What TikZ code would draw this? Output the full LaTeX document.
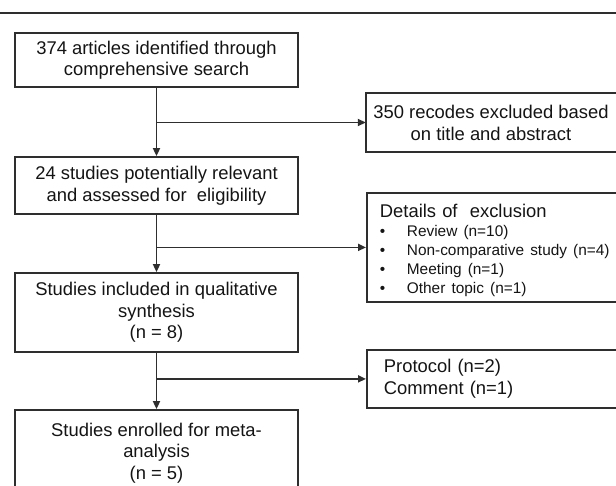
\documentclass[tikz,border=0pt]{standalone}
\usepackage{fontspec}
\setmainfont{Liberation Sans}
\usetikzlibrary{arrows.meta}
\definecolor{ln}{HTML}{2E2E2E}
\definecolor{tx}{HTML}{141414}
\tikzset{
  conn/.style={draw=ln, line width=1.8pt},
  arr/.style={conn, -{Triangle[length=8pt,width=7pt]}},
  box/.style={conn, text=tx, align=center, inner sep=0pt, minimum width=283pt,
    font=\fontsize{18.4}{21.5}\selectfont},
  rbox/.style={text=tx, inner sep=0pt, font=\fontsize{18.4}{22}\selectfont},
}
\begin{document}
\begin{tikzpicture}[x=1pt,y=-1pt]
\useasboundingbox (0,0) rectangle (616,485);
\clip (0,0) rectangle (616,485);
\draw[draw=ln, line width=2.2pt] (-5,13) -- (621,13);
% left column
\node[box, minimum height=54pt] (a) at (156.5,60) {374 articles identified through\\comprehensive search};
\node[box, minimum height=57pt] (b) at (156.5,185.5) {24 studies potentially relevant\\and assessed for\ \ eligibility};
\node[box, minimum height=79pt] (c) at (156.5,312.5) {Studies included in qualitative\\synthesis\\(n = 8)};
\node[box, minimum height=86pt] (d) at (156.5,453) {Studies enrolled for meta-\\analysis\\(n = 5)};
% right column
\node[rbox, align=center, minimum width=250pt, minimum height=59pt] (r1) at (491,122.5) {350 recodes excluded based\\on title and abstract};
\draw[conn] ([xshift=30pt]r1.north east) -- (r1.north west) -- (r1.south west) -- ([xshift=30pt]r1.south east);
\node[rbox, conn, anchor=north west, align=left, text width=264pt, inner xsep=13pt,
  minimum width=290pt, minimum height=109pt] (r2) at (366,192) {%
  \parindent=0pt
  {\fontsize{18.4}{21}\selectfont \rule{0pt}{20pt}Details of\ \ exclusion\par}%
  {\fontsize{15.4}{19}\selectfont
  \makebox[27pt][l]{•}Review (n=10)\par
  \makebox[27pt][l]{•}Non-comparative study (n=4)\par
  \makebox[27pt][l]{•}Meeting (n=1)\par
  \makebox[27pt][l]{•}Other topic (n=1)\par}};
\node[rbox, conn, anchor=north west, align=left, text width=256pt, inner xsep=17pt,
  minimum width=290pt, minimum height=58pt] (r3) at (366,349) {Protocol (n=2)\\Comment (n=1)};
% connectors
\draw[arr] (a.south) -- (b.north);
\draw[arr] (b.south) -- (c.north);
\draw[arr] (c.south) -- (d.north);
\draw[arr] (a.south |- r1.west) -- (r1.west);
\draw[arr] (b.south |- r2.west) -- (r2.west);
\draw[arr] (c.south |- r3.west) -- (r3.west);
\end{tikzpicture}
\end{document}
